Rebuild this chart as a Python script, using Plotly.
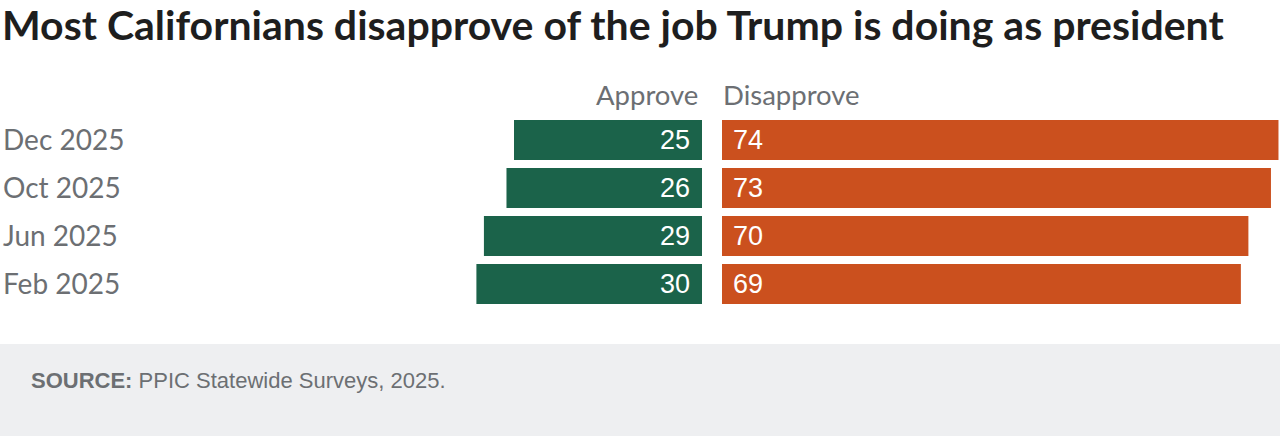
import plotly.graph_objects as go

title = "Most Californians disapprove of the job Trump is doing as president"
periods = ["Dec 2025", "Oct 2025", "Jun 2025", "Feb 2025"]
approve = [25, 26, 29, 30]
disapprove = [74, 73, 70, 69]
series_names = ["Approve", "Disapprove"]
source_label = "SOURCE:"
source_text = "PPIC Statewide Surveys, 2025."

W, H = 1280, 436
GREEN = "#1b634a"
ORANGE = "#cb501e"
GRAY = "#6c6f73"
PX_PER_UNIT = 7.52

def py(px):
    return 1 - px / H

fig = go.Figure()
fig.add_trace(go.Bar(y=periods, x=approve, orientation="h", marker=dict(color=GREEN, line_width=0),
                     xaxis="x", yaxis="y", name=series_names[0], hoverinfo="x+y"))
fig.add_trace(go.Bar(y=periods, x=disapprove, orientation="h", marker=dict(color=ORANGE, line_width=0),
                     xaxis="x2", yaxis="y", name=series_names[1], hoverinfo="x+y"))

left_w = 702
right_w = W - 722
fig.update_layout(
    width=W, height=H,
    margin=dict(l=0, r=0, t=0, b=0, pad=0),
    paper_bgcolor="white", plot_bgcolor="white",
    showlegend=False, bargap=8 / 48,
    xaxis=dict(domain=[0, left_w / W], range=[left_w / PX_PER_UNIT, 0], visible=False, fixedrange=True),
    xaxis2=dict(domain=[722 / W, 1], range=[0, right_w / PX_PER_UNIT], visible=False, anchor="y", fixedrange=True),
    yaxis=dict(domain=[py(308), py(116)], type="category", categoryorder="array", categoryarray=periods,
               autorange="reversed", visible=False, fixedrange=True),
)

annotations = []
# Title
annotations.append(dict(text=f"<b>{title}</b>", xref="paper", yref="paper", x=0, y=py(24),
                        xanchor="left", yanchor="middle", showarrow=False,
                        font=dict(family="Lato", size=41, color="#1e1e1e")))
# Headers
annotations.append(dict(text=series_names[0], xref="paper", yref="paper", x=700 / W, y=py(95),
                        xanchor="right", yanchor="middle", showarrow=False,
                        font=dict(family="Lato", size=27.5, color=GRAY)))
annotations.append(dict(text=series_names[1], xref="paper", yref="paper", x=721 / W, y=py(95),
                        xanchor="left", yanchor="middle", showarrow=False,
                        font=dict(family="Lato", size=27.5, color=GRAY)))
for p, a, d in zip(periods, approve, disapprove):
    annotations.append(dict(text=p, xref="paper", yref="y", x=1 / W, y=p, xanchor="left", yanchor="middle",
                            yshift=1, showarrow=False, font=dict(family="Lato", size=28, color=GRAY)))
    annotations.append(dict(text=str(a), xref="x", yref="y", x=0, y=p, xanchor="right", yanchor="middle",
                            xshift=-10, showarrow=False, font=dict(family="Liberation Sans", size=27, color="white")))
    annotations.append(dict(text=str(d), xref="x2", yref="y", x=0, y=p, xanchor="left", yanchor="middle",
                            xshift=9, showarrow=False, font=dict(family="Liberation Sans", size=27, color="white")))
# Footer
annotations.append(dict(text=f"<b>{source_label}</b> {source_text}", xref="paper", yref="paper",
                        x=29 / W, y=py(380), xanchor="left", yanchor="middle", showarrow=False,
                        font=dict(family="Liberation Sans", size=22, color=GRAY)))
fig.update_layout(annotations=annotations)

fig.add_shape(type="rect", xref="paper", yref="paper", x0=0, x1=1, y0=0, y1=py(344),
              fillcolor="#eeeff1", line_width=0, layer="below")

fig.write_html("out.html", config={"displayModeBar": False})
